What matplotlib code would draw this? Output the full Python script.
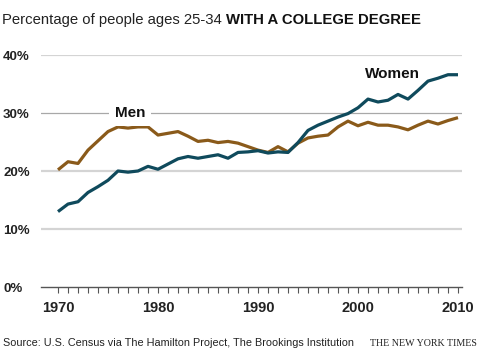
import matplotlib
matplotlib.use("Agg")
import matplotlib.pyplot as plt
import matplotlib.transforms as mtransforms
from matplotlib.ticker import FixedLocator

years = list(range(1970, 2011))
men = [20.2, 21.6, 21.3, 23.6, 25.2, 26.8, 27.6, 27.4, 27.6, 27.6,
       26.2, 26.5, 26.8, 26.0, 25.1, 25.3, 24.9, 25.1, 24.8, 24.2,
       23.6, 23.2, 24.2, 23.3, 24.8, 25.7, 26.0, 26.2, 27.6, 28.6,
       27.8, 28.4, 27.9, 27.9, 27.6, 27.1, 27.9, 28.6, 28.1, 28.7, 29.2]
women = [13.0, 14.3, 14.7, 16.3, 17.3, 18.4, 20.0, 19.8, 20.0, 20.8,
         20.3, 21.2, 22.1, 22.5, 22.2, 22.5, 22.8, 22.2, 23.2, 23.3,
         23.5, 23.1, 23.3, 23.2, 24.9, 27.0, 27.9, 28.6, 29.3, 29.9,
         30.9, 32.4, 31.9, 32.2, 33.2, 32.4, 33.9, 35.5, 36.0, 36.6, 36.6]
yticks = [0, 10, 20, 30, 40]
ytick_labels = ["0%", "10%", "20%", "30%", "40%"]
xtick_years = [1970, 1980, 1990, 2000, 2010]

W, H = 480, 359
fig = plt.figure(figsize=(W / 100, H / 100), dpi=100)
ax = fig.add_axes([41 / W, 1 - 287 / H, (462 - 41) / W, (287 - 55) / H])
ax.set_xlim(1968.3, 2010.4)
ax.set_ylim(0, 40)
for s in ax.spines.values():
    s.set_visible(False)

# gridlines
for v in [10, 20, 40]:
    ax.axhline(v, color="#d4d4d4", lw=1.6, zorder=1)
ax.axhline(30, color="#a8a8a8", lw=0.9, zorder=1)
ax.axhline(0, color="#555555", lw=1.0, zorder=2, clip_on=False)

brown = "#8a5a1a"
blue = "#0f4a5c"
ax.plot(years, men, color=brown, lw=2.3, zorder=3, clip_on=False, solid_capstyle="butt")
ax.plot(years, women, color=blue, lw=2.3, zorder=4, clip_on=False, solid_capstyle="butt")

ax.text(1977.2, 30, "Men", ha="center", va="center", fontsize=11, fontweight="bold",
        family="Liberation Sans", color="#111111", zorder=5,
        bbox=dict(facecolor="white", edgecolor="none", pad=4))
ax.text(2003.4, 36.7, "Women", ha="center", va="center", fontsize=11,
        fontweight="bold", family="Liberation Sans", color="#111111", zorder=5)

# ticks
ax.xaxis.set_minor_locator(FixedLocator(years))
ax.xaxis.set_major_locator(FixedLocator(xtick_years))
ax.set_xticklabels([str(y) for y in xtick_years])
ax.tick_params(axis="x", which="both", direction="out", length=4, width=0.8,
               color="#555555", pad=6, labelsize=10.5, labelcolor="#222222")
for lab in ax.get_xticklabels():
    lab.set_fontweight("bold")
    lab.set_family("Liberation Sans")
ax.set_yticks(yticks)
ax.set_yticklabels(ytick_labels)
ax.tick_params(axis="y", length=0, pad=0, labelsize=9.5, labelcolor="#222222")
for lab in ax.get_yticklabels():
    lab.set_fontweight("bold")
    lab.set_family("Liberation Sans")
    lab.set_horizontalalignment("left")
    lab.set_transform(mtransforms.blended_transform_factory(fig.transFigure, ax.transData))
    lab.set_x(3 / W)

# title
t1 = fig.text(2 / W, 1 - 20 / H, "Percentage of people ages 25-34 ", fontsize=10.7,
              family="Liberation Sans", color="#222222", va="center", ha="left")
fig.canvas.draw()
bb = t1.get_window_extent()
fig.text(bb.x1 / W, 1 - 20 / H, "WITH A COLLEGE DEGREE", fontsize=10.7, fontweight="bold",
         family="Liberation Sans", color="#111111", va="center", ha="left")

fig.text(3 / W, 1 - 343 / H, "Source: U.S. Census via The Hamilton Project, The Brookings Institution",
         fontsize=7.8, family="Liberation Sans", color="#222222", va="center", ha="left")
fig.text(477 / W, 1 - 343 / H, "THE NEW YORK TIMES", fontsize=7.2,
         family="Liberation Serif", color="#222222", va="center", ha="right")

fig.savefig("out.png", dpi=100)
